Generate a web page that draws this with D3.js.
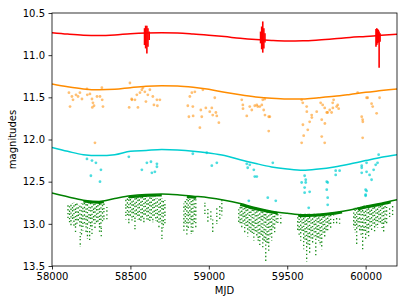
<!DOCTYPE html>
<html>
<head>
<meta charset="utf-8">
<script src="https://cdn.jsdelivr.net/npm/d3@7"></script>
<style>
  body { margin: 0; background: #fff; }
  text { font-family: "DejaVu Sans", sans-serif; }
</style>
</head>
<body>
<script>
// model curves, one magnitude every 100 days from 58000 to 60200
var curveMjd = d3.range(58000, 60201, 100);
var redCurve = [10.733, 10.75, 10.763, 10.767, 10.76, 10.745, 10.737, 10.735, 10.737, 10.748, 10.763, 10.78,
    10.8, 10.815, 10.826, 10.832, 10.83, 10.82, 10.806, 10.79, 10.778, 10.765, 10.752];
var orangeCurve = [11.342, 11.375, 11.4, 11.41, 11.405, 11.385, 11.368, 11.362, 11.365, 11.38, 11.405, 11.44,
    11.47, 11.495, 11.512, 11.52, 11.52, 11.505, 11.488, 11.465, 11.44, 11.42, 11.4];
var cyanCurve = [12.094, 12.14, 12.18, 12.19, 12.18, 12.14, 12.13, 12.12, 12.125, 12.138, 12.16, 12.19,
    12.24, 12.285, 12.325, 12.35, 12.365, 12.35, 12.325, 12.29, 12.25, 12.21, 12.18];
var greenCurve = [12.635, 12.68, 12.72, 12.735, 12.7, 12.668, 12.652, 12.647, 12.655, 12.672, 12.69, 12.72,
    12.76, 12.81, 12.85, 12.875, 12.893, 12.885, 12.865, 12.835, 12.79, 12.755, 12.715];

// red observations: [mjd, brightest, faintest]
var redRuns = [
    [58590, 10.68, 10.88], [58597, 10.65, 10.92], [58605, 10.65, 10.98], [58612, 10.68, 10.9], [58620, 10.72, 10.82],
    [59330, 10.72, 10.86], [59337, 10.66, 10.93], [59344, 10.6, 10.97], [59351, 10.68, 10.92], [59358, 10.74, 10.85],
    [60066, 10.69, 10.9], [60071, 10.68, 10.88], [60076, 10.69, 10.86], [60081, 10.7, 10.85], [60086, 10.72, 11.15], [60092, 10.74, 10.84]
];

// orange observations [mjd, mag]
var orangePts = [
    [58108, 11.445], [58127, 11.49], [58134, 11.53], [58115, 11.61], [58153, 11.47], [58166, 11.49], [58178, 11.445],
    [58191, 11.52], [58223, 11.40], [58225, 11.47], [58242, 11.46], [58255, 11.52], [58261, 11.565], [58257, 11.62],
    [58268, 11.60], [58287, 11.49], [58306, 11.49], [58318, 11.385], [58320, 11.53], [58325, 11.61], [58274, 12.04],
    [58497, 11.33], [58508, 11.52], [58510, 11.53], [58529, 11.53], [58541, 11.47], [58548, 11.62], [58561, 11.445],
    [58573, 11.41], [58580, 11.385], [58592, 11.435], [58599, 11.55], [58611, 11.47], [58624, 11.41], [58643, 11.49],
    [58650, 11.59], [58669, 11.53], [58672, 11.60], [58688, 11.53], [58492, 11.62],
    [58879, 11.49], [58892, 11.445], [58911, 11.435], [58866, 11.60], [58898, 11.61], [58873, 11.73], [58900, 11.72],
    [58949, 11.65], [58955, 11.73], [58943, 11.86], [58962, 11.41], [58981, 11.625], [59006, 11.67], [59019, 11.625],
    [59025, 11.71], [59045, 11.68], [59051, 11.72], [59064, 11.80], [59038, 11.505],
    [59210, 11.53], [59217, 11.59], [59218, 11.635], [59242, 11.72], [59261, 11.61], [59274, 11.65], [59293, 11.60],
    [59306, 11.59], [59312, 11.61], [59325, 11.61], [59338, 11.59], [59344, 11.53], [59357, 11.52], [59350, 11.65],
    [59358, 11.71], [59382, 11.73], [59382, 11.90], [59389, 11.73],
    [59592, 11.53], [59599, 11.565], [59624, 11.61], [59625, 11.67], [59600, 11.825], [59605, 11.955], [59592, 12.04],
    [59656, 11.71], [59657, 11.74], [59643, 11.79], [59631, 11.885], [59688, 11.67], [59713, 11.565], [59720, 11.765],
    [59726, 11.59], [59739, 11.625], [59740, 11.81], [59752, 11.68], [59758, 11.68], [59771, 11.65], [59783, 11.68],
    [59790, 11.565], [59791, 11.625], [59796, 11.53], [59815, 11.61], [59822, 11.59], [59828, 11.635], [59720, 11.965],
    [59739, 12.04],
    [59949, 11.445], [59975, 11.73], [59981, 11.765], [59982, 11.79], [59981, 11.98], [60006, 11.505], [60013, 11.505],
    [60038, 11.575], [60045, 11.61], [60070, 11.69], [60089, 11.505]
];

// cyan observations [mjd, mag]
var cyanPts = [
    [58223, 12.23], [58255, 12.25], [58280, 12.276], [58312, 12.36], [58248, 12.43], [58306, 12.5], [58490, 12.205],
    [58573, 12.36], [58605, 12.276], [58631, 12.264], [58669, 12.288], [58669, 12.323], [58637, 12.395], [58656, 12.383],
    [58898, 12.169], [58987, 12.157], [59051, 12.276], [59019, 12.31],
    [59242, 12.288], [59261, 12.30], [59248, 12.335], [59287, 12.36], [59293, 12.44], [59306, 12.44], [59255, 12.727],
    [59376, 12.69], [59427, 12.727], [59408, 12.276],
    [59611, 12.43], [59618, 12.477], [59618, 12.51], [59592, 12.51], [59611, 12.57], [59611, 12.63], [59643, 12.62],
    [59637, 12.81], [59752, 12.5], [59758, 12.51], [59752, 12.595], [59758, 12.69], [59758, 12.775], [59809, 12.37],
    [59809, 12.42], [59834, 12.37],
    [59975, 12.31], [59975, 12.335], [59975, 12.395], [60006, 12.383], [60006, 12.276], [60025, 12.42], [60038, 12.477],
    [60051, 12.36], [60064, 12.30], [60076, 12.276], [60083, 12.18], [60006, 12.61], [60000, 12.655], [60000, 12.595],
    [60000, 12.667]
];

// green observations: [mjd, brightest, faintest] for each run of nights
var greenRuns = [
    [58102, 12.78, 12.95], [58112, 12.77, 13.0], [58121, 12.76, 13.02], [58131, 12.76, 12.98], [58140, 12.75, 13.05],
    [58150, 12.76, 13.1], [58159, 12.76, 13.0], [58168, 12.78, 12.96], [58178, 12.77, 13.05], [58180, 13.1, 13.27],
    [58188, 12.76, 13.15], [58197, 12.75, 13.08], [58207, 12.75, 13.02], [58217, 12.74, 13.1], [58226, 12.75, 13.18],
    [58236, 12.75, 13.0], [58240, 13.05, 13.2], [58246, 12.74, 13.06], [58255, 12.74, 13.12], [58265, 12.74, 13.0],
    [58274, 12.74, 13.05], [58284, 12.74, 12.98], [58293, 12.74, 13.0], [58303, 12.75, 13.1], [58312, 12.75, 13.05],
    [58314, 13.05, 13.16], [58322, 12.75, 12.98], [58331, 12.76, 12.95], [58350, 12.8, 12.95],
    [58471, 12.7, 12.95], [58481, 12.69, 12.9], [58490, 12.68, 13.0], [58500, 12.68, 12.93], [58510, 12.68, 12.98],
    [58519, 12.68, 12.95], [58529, 12.68, 13.08], [58538, 12.68, 12.92], [58548, 12.68, 12.95], [58557, 12.68, 12.97],
    [58567, 12.68, 13.0], [58576, 12.68, 12.93], [58586, 12.68, 12.98], [58595, 12.68, 12.92], [58605, 12.68, 12.95],
    [58614, 12.68, 12.98], [58624, 12.68, 13.0], [58633, 12.69, 12.94], [58643, 12.69, 12.98], [58652, 12.69, 12.93],
    [58662, 12.7, 12.96], [58672, 12.7, 13.0], [58682, 12.7, 13.05], [58691, 12.7, 12.98], [58701, 12.7, 13.2],
    [58710, 12.71, 13.05], [58720, 12.72, 13.0],
    [58841, 12.76, 13.1], [58850, 12.72, 13.0], [58860, 12.7, 13.15], [58869, 12.69, 13.05], [58879, 12.68, 13.0],
    [58888, 12.68, 13.12], [58898, 12.68, 13.1], [58907, 12.69, 12.98], [58917, 12.7, 13.05],
    [58975, 12.75, 12.9], [58994, 12.8, 13.0], [59013, 12.85, 12.95], [59025, 12.95, 13.1], [59051, 12.8, 13.0],
    [59070, 12.78, 12.95], [59083, 12.72, 12.9],
    [59191, 12.8, 13.0], [59200, 12.8, 13.02], [59210, 12.8, 13.05], [59219, 12.8, 13.0], [59229, 12.8, 13.1],
    [59238, 12.8, 13.05], [59248, 12.8, 13.15], [59258, 12.8, 13.08], [59268, 12.81, 13.1], [59277, 12.81, 13.12],
    [59287, 12.82, 13.2], [59296, 12.82, 13.1], [59306, 12.82, 13.15], [59315, 12.83, 13.2], [59325, 12.83, 13.25],
    [59334, 12.83, 13.15], [59344, 12.84, 13.3], [59353, 12.84, 13.2], [59363, 12.85, 13.45], [59372, 12.85, 13.25],
    [59382, 12.85, 13.35], [59391, 12.86, 13.15], [59401, 12.86, 13.2], [59410, 12.86, 13.05], [59420, 12.87, 13.1],
    [59430, 12.87, 13.0], [59440, 12.88, 13.0], [59459, 12.9, 13.0],
    [59567, 12.9, 13.1], [59576, 12.89, 13.15], [59586, 12.88, 13.2], [59595, 12.88, 13.12], [59605, 12.88, 13.3],
    [59614, 12.88, 13.2], [59624, 12.88, 13.45], [59633, 12.88, 13.25], [59643, 12.88, 13.35], [59652, 12.88, 13.2],
    [59662, 12.88, 13.25], [59672, 12.88, 13.15], [59682, 12.88, 13.4], [59691, 12.88, 13.18], [59701, 12.88, 13.2],
    [59710, 12.88, 13.25], [59720, 12.88, 13.3], [59729, 12.88, 13.12], [59739, 12.88, 13.15], [59748, 12.88, 13.08],
    [59758, 12.88, 13.1], [59767, 12.88, 13.02], [59777, 12.88, 13.05], [59796, 12.9, 13.0], [59815, 12.9, 13.0],
    [59834, 12.93, 13.0],
    [59924, 12.82, 13.05], [59933, 12.81, 13.1], [59943, 12.8, 13.25], [59952, 12.8, 13.05], [59962, 12.8, 13.1],
    [59971, 12.79, 13.15], [59981, 12.79, 13.3], [59990, 12.78, 13.1], [60000, 12.78, 13.2], [60009, 12.78, 13.12],
    [60019, 12.78, 13.15], [60028, 12.78, 13.05], [60038, 12.78, 13.1], [60047, 12.78, 13.0], [60057, 12.78, 13.1],
    [60066, 12.78, 13.02], [60076, 12.78, 13.05], [60085, 12.78, 12.98], [60095, 12.78, 13.0], [60105, 12.78, 13.05],
    [60115, 12.78, 13.1], [60124, 12.79, 12.98], [60134, 12.8, 13.0], [60153, 12.8, 12.95], [60172, 12.78, 12.9]
];
// seasons where the dense band of green points hugs the curve: [start, end]
var greenBands = [[58200, 58330], [58490, 58700], [58860, 58920], [59200, 59440], [59570, 59850], [59950, 60160]];

var xTicks = [58000, 58500, 59000, 59500, 60000];
var yTicks = [10.5, 11.0, 11.5, 12.0, 12.5, 13.0, 13.5];

var margin = {top: 13, right: 10, bottom: 39, left: 52};
var W = 407, H = 305;
var w = W - margin.left - margin.right,
    h = H - margin.top - margin.bottom;

var x = d3.scaleLinear().domain([58000, 60200]).range([0, w]);
var y = d3.scaleLinear().domain([10.5, 13.5]).range([0, h]);

var svg = d3.select("body").append("svg")
    .attr("width", W)
    .attr("height", H);

svg.append("defs").append("clipPath").attr("id", "clip")
  .append("rect").attr("width", w).attr("height", h);

var g = svg.append("g")
    .attr("transform", "translate(" + margin.left + "," + margin.top + ")");

var plot = g.append("g").attr("clip-path", "url(#clip)");

var line = d3.line()
    .x(function(d) { return x(d[0]); })
    .y(function(d) { return y(d[1]); })
    .curve(d3.curveMonotoneX);

function pairs(vals) {
    return curveMjd.map(function(m, i) { return [m, vals[i]]; });
}

// green runs (dash pattern shifted per run so it does not line up in rows)
plot.selectAll("line.green")
    .data(greenRuns)
  .enter().append("line")
    .attr("class", "green")
    .attr("x1", function(d) { return x(d[0]); })
    .attr("x2", function(d) { return x(d[0]); })
    .attr("y1", function(d) { return y(d[1]); })
    .attr("y2", function(d) { return y(d[2]); })
    .attr("stroke", "#008000")
    .attr("stroke-width", 1.3)
    .attr("stroke-dasharray", function(d, i) { return i % 2 ? "1.4,1.6,1.4,3" : "1.4,2.4"; })
    .attr("stroke-dashoffset", function(d, i) { return (i * 1.3) % 4; })
    .attr("opacity", 0.9);

// dense band just under green curve
var gInterp = d3.scaleLinear().domain(curveMjd).range(greenCurve);
greenBands.forEach(function(b) {
    var pts = d3.range(b[0], b[1] + 1, 10).map(function(m) { return [m, gInterp(m)]; });
    plot.append("path")
        .attr("d", line(pts))
        .attr("transform", "translate(0,1.2)")
        .attr("fill", "none")
        .attr("stroke", "#008000")
        .attr("stroke-width", 2.4);
});

// cyan & orange points
plot.selectAll("circle.cyan")
    .data(cyanPts)
  .enter().append("circle")
    .attr("cx", function(d) { return x(d[0]); })
    .attr("cy", function(d) { return y(d[1]); })
    .attr("r", 1.4)
    .attr("fill", "#00ced1")
    .attr("opacity", 0.7);

plot.selectAll("circle.orange")
    .data(orangePts)
  .enter().append("circle")
    .attr("cx", function(d) { return x(d[0]); })
    .attr("cy", function(d) { return y(d[1]); })
    .attr("r", 1.4)
    .attr("fill", "#ff8c00")
    .attr("opacity", 0.55);

// red runs
plot.selectAll("line.red")
    .data(redRuns)
  .enter().append("line")
    .attr("x1", function(d) { return x(d[0]); })
    .attr("x2", function(d) { return x(d[0]); })
    .attr("y1", function(d) { return y(d[1]); })
    .attr("y2", function(d) { return y(d[2]); })
    .attr("stroke", "red")
    .attr("stroke-width", 1.6);

// curves
[[redCurve, "red"], [orangeCurve, "#ff8c00"], [cyanCurve, "#00ced1"], [greenCurve, "#008000"]].forEach(function(c) {
    plot.append("path")
        .attr("d", line(pairs(c[0])))
        .attr("fill", "none")
        .attr("stroke", c[1])
        .attr("stroke-width", 1.5);
});

// axes
var xAxis = d3.axisBottom(x).tickValues(xTicks).tickFormat(d3.format("d")).tickSize(3.5).tickPadding(3.5);
var yAxis = d3.axisLeft(y).tickValues(yTicks).tickFormat(d3.format(".1f")).tickSize(3.5).tickPadding(3.5);

g.append("g").attr("transform", "translate(0," + h + ")").call(xAxis);
g.append("g").call(yAxis);
g.selectAll(".tick text").attr("font-size", 10).attr("font-family", "DejaVu Sans").attr("fill", "#000");
g.selectAll(".tick line").attr("stroke", "#000").attr("stroke-width", 0.8);
g.selectAll(".domain").remove();

g.append("rect")
    .attr("width", w).attr("height", h)
    .attr("fill", "none").attr("stroke", "#000").attr("stroke-width", 0.8);

svg.append("text")
    .attr("x", margin.left + w / 2).attr("y", 294)
    .attr("text-anchor", "middle").attr("font-size", 10)
    .text("MJD");

svg.append("text")
    .attr("transform", "translate(16," + (margin.top + h / 2) + ") rotate(-90)")
    .attr("text-anchor", "middle").attr("font-size", 10)
    .text("magnitudes");
</script>
</body>
</html>
